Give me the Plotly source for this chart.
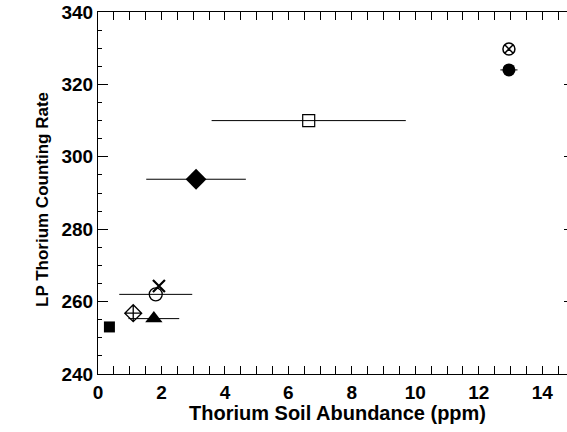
import plotly.graph_objects as go

# Data
thorium_ppm = [0.36, 1.11, 1.76, 1.82, 1.92, 3.09, 6.64, 12.95, 12.95]
lp_rate = [253.0, 256.8, 255.3, 262.0, 264.3, 293.8, 310.0, 329.8, 324.0]
thorium_err = [0.0, 0.0, 0.8, 1.15, 0.0, 1.57, 3.06, 0.0, 0.27]

# Styles (one per point)
symbols = ["square", "diamond-cross-open", "triangle-up", "circle-open", "x-thin-open",
           "diamond", "square-open", "circle-x-open", "circle"]
sizes = [11, 13, 15, 13, 12, 16, 12, 12, 13]
lwidths = [0, 1.3, 0, 1.3, 2.2, 0, 1.2, 1.5, 0]

fig = go.Figure()
for i in range(len(thorium_ppm)):
    err = dict(type="data", array=[thorium_err[i]], visible=thorium_err[i] > 0,
               color="black", thickness=1, width=0)
    fig.add_trace(go.Scatter(
        x=[thorium_ppm[i]], y=[lp_rate[i]], mode="markers",
        marker=dict(symbol=symbols[i], size=sizes[i], color="black",
                    line=dict(color="black", width=lwidths[i])),
        error_x=err, showlegend=False))

# invisible trace to activate the right-side tick axis
fig.add_trace(go.Scatter(x=[None], y=[None], yaxis="y2", showlegend=False, hoverinfo="skip"))

font_tick = dict(family="Liberation Sans", size=19, color="black", weight="bold")

fig.update_layout(
    width=567, height=432,
    margin=dict(l=98, r=0, t=12, b=58),
    paper_bgcolor="white", plot_bgcolor="white",
    xaxis=dict(range=[0, 14.78], tick0=0, dtick=2, ticks="inside", ticklen=8, tickwidth=1,
               tickcolor="black", showline=True, linecolor="black", linewidth=1,
               mirror="allticks", showgrid=False, zeroline=False, tickfont=font_tick,
               automargin=False, ticklabelstandoff=1,
               minor=dict(dtick=0.5, ticks="inside", ticklen=4, tickcolor="black", showgrid=False)),
    yaxis=dict(range=[240, 340], tick0=240, dtick=20, ticks="inside", ticklen=10, tickwidth=1,
               tickcolor="black", showline=True, linecolor="black", linewidth=1,
               mirror=False, showgrid=False, zeroline=False, tickfont=font_tick,
               automargin=False, ticklabelstandoff=0,
               minor=dict(dtick=5, ticks="inside", ticklen=4, tickcolor="black", showgrid=False)),
    yaxis2=dict(range=[240, 340], tick0=240, dtick=20, overlaying="y", side="right",
                anchor="x", ticks="inside", ticklen=3, tickcolor="black", showticklabels=False,
                showline=False, showgrid=False, zeroline=False, automargin=False),
    annotations=[
        dict(text="Thorium Soil Abundance (ppm)", xref="paper", yref="paper",
             x=0.51, y=0, yshift=-39, xanchor="center", yanchor="middle", showarrow=False,
             font=dict(family="Liberation Sans", size=20, color="black", weight="bold")),
        dict(text="LP Thorium Counting Rate", xref="paper", yref="paper",
             x=0, xshift=-56, y=0.5, yshift=-7, textangle=-90, xanchor="center",
             yanchor="middle", showarrow=False,
             font=dict(family="Liberation Sans", size=17, color="black", weight="bold")),
    ],
)

fig.write_html("out.html", config={"displayModeBar": False},
               post_script="document.body.style.margin='0';")
